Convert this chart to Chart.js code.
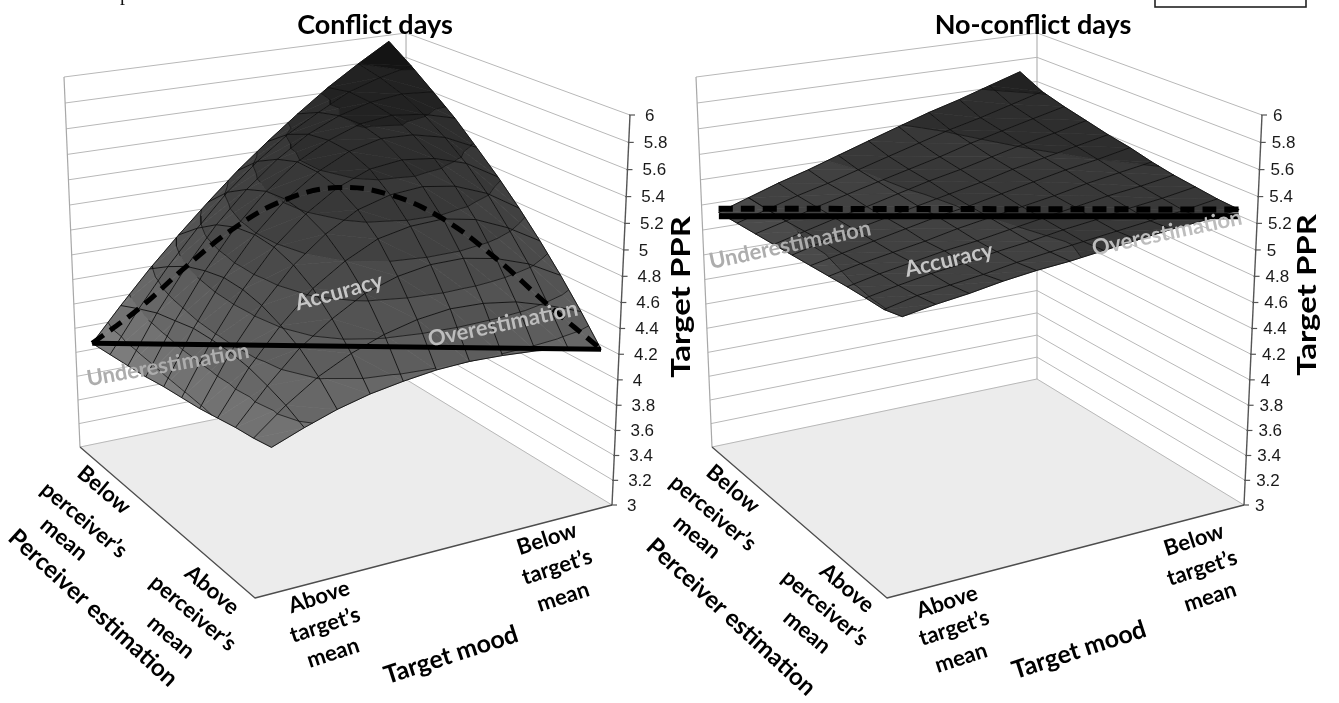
<!DOCTYPE html>
<html>
<head>
<meta charset="utf-8">
<style>
  html, body { margin: 0; background: #fff; }
  canvas { position: absolute; left: 0; top: 0; filter: blur(0.35px); }
</style>
<script src="https://cdn.jsdelivr.net/npm/chart.js@4"></script>
</head>
<body>
<canvas id="conflict" width="1339" height="703"></canvas>
<canvas id="noConflict" width="1339" height="703"></canvas>
<script>
// Target PPR tick values
const zTicks = [3, 3.2, 3.4, 3.6, 3.8, 4, 4.2, 4.4, 4.6, 4.8, 5, 5.2, 5.4, 5.6, 5.8, 6];
const bandGreys = ['#a0a0a0', '#989898', '#909090', '#888888', '#7c7c7c', '#727272', '#676767', '#5d5d5d',
  '#535353', '#4a4a4a', '#414141', '#383838', '#2e2e2e', '#222222', '#141414'];

const chartTitles = ['Conflict days', 'No-conflict days'];
const perceiverLevels = [['Below', 'perceiver’s', 'mean'], ['Above', 'perceiver’s', 'mean']];
const targetLevels = [['Above', 'target’s', 'mean'], ['Below', 'target’s', 'mean']];

// surface height, rows go from the back wall to the front
const conflictSurface = [
  [3.85, 4.12, 4.38, 4.62, 4.85, 5.07, 5.27, 5.46, 5.64, 5.80, 5.95],
  [3.87, 4.20, 4.50, 4.77, 5.02, 5.23, 5.41, 5.55, 5.68, 5.76, 5.82],
  [3.89, 4.27, 4.60, 4.89, 5.13, 5.33, 5.49, 5.60, 5.67, 5.70, 5.68],
  [3.91, 4.31, 4.66, 4.96, 5.20, 5.39, 5.52, 5.61, 5.64, 5.61, 5.54],
  [3.94, 4.35, 4.70, 4.99, 5.22, 5.39, 5.51, 5.57, 5.56, 5.50, 5.38],
  [3.96, 4.36, 4.70, 4.98, 5.19, 5.35, 5.45, 5.48, 5.45, 5.37, 5.22],
  [3.98, 4.36, 4.67, 4.93, 5.12, 5.26, 5.33, 5.35, 5.31, 5.21, 5.05],
  [4.01, 4.34, 4.61, 4.84, 5.00, 5.12, 5.17, 5.18, 5.13, 5.02, 4.87],
  [4.04, 4.30, 4.53, 4.70, 4.84, 4.92, 4.96, 4.96, 4.91, 4.82, 4.68],
  [4.06, 4.25, 4.41, 4.53, 4.62, 4.68, 4.71, 4.70, 4.66, 4.58, 4.48],
  [4.09, 4.18, 4.26, 4.32, 4.36, 4.39, 4.40, 4.39, 4.37, 4.33, 4.27]
];
const noConflictSurface = [
  [4.92, 5.00, 5.08, 5.15, 5.23, 5.31, 5.39, 5.47, 5.54, 5.62, 5.70],
  [4.93, 5.00, 5.07, 5.13, 5.20, 5.27, 5.34, 5.41, 5.47, 5.54, 5.61],
  [4.94, 5.00, 5.07, 5.13, 5.19, 5.25, 5.31, 5.38, 5.44, 5.50, 5.56],
  [4.95, 5.01, 5.07, 5.12, 5.18, 5.24, 5.29, 5.35, 5.41, 5.46, 5.52],
  [4.96, 5.02, 5.07, 5.12, 5.17, 5.22, 5.27, 5.33, 5.38, 5.43, 5.48],
  [4.97, 5.02, 5.07, 5.12, 5.17, 5.21, 5.26, 5.31, 5.36, 5.40, 5.45],
  [4.98, 5.03, 5.07, 5.11, 5.16, 5.20, 5.24, 5.28, 5.33, 5.37, 5.41],
  [4.99, 5.04, 5.08, 5.12, 5.15, 5.19, 5.23, 5.27, 5.31, 5.34, 5.38],
  [4.995, 5.04, 5.08, 5.11, 5.15, 5.18, 5.22, 5.25, 5.29, 5.32, 5.36],
  [4.997, 5.05, 5.08, 5.11, 5.15, 5.18, 5.21, 5.24, 5.27, 5.30, 5.34],
  [5.03, 5.07, 5.10, 5.14, 5.17, 5.19, 5.22, 5.25, 5.28, 5.30, 5.33]
];

// the dashed and solid lines, as heights along the corner to corner diagonal
const conflictDashed = [3.85, 4.20, 4.60, 4.96, 5.22, 5.35, 5.33, 5.18, 4.91, 4.58, 4.27];
const conflictSolid = [3.85, 4.27];
const noConflictDashed = [4.95, 5.33];
const noConflictSolid = [4.89, 5.28];

// box corners on the page: left, back, right, front, floor then ceiling
const conflictBox = {
  floor: { L: [80, 447], B: [407, 380], R: [612, 505], F: [255, 598] },
  top: { L: [64, 77], B: [406, 33], R: [630, 115], F: [250, 180] }
};
const noConflictBox = {
  floor: { L: [712, 447], B: [1037, 379], R: [1244, 505], F: [887, 598] },
  top: { L: [696, 77], B: [1037, 33], R: [1262, 115], F: [882, 180] }
};

const PERSPECTIVE = 0.055;
const A_MARGIN = 0.05;

function lerp(p, q, s) { return p + (q - p) * s; }

function bilin(c, a, b, k) {
  return lerp(lerp(c.L[k], c.B[k], a), lerp(c.F[k], c.R[k], a), b);
}

// a: left wall -> right wall, b: back wall -> front, z: Target PPR
function project(box, a, b, z) {
  const f = (z - 3) / 3;
  const t = f * (1 - PERSPECTIVE) / (1 - PERSPECTIVE * f);
  return {
    x: lerp(bilin(box.floor, a, b, 0), bilin(box.top, a, b, 0), t),
    y: lerp(bilin(box.floor, a, b, 1), bilin(box.top, a, b, 1), t)
  };
}

function gridA(i) { return A_MARGIN + (1 - 2 * A_MARGIN) * i / 10; }

function clipSide(poly, level, keepAbove) {
  const out = [];
  poly.forEach((p, n) => {
    const q = poly[(n + 1) % poly.length];
    const pIn = keepAbove ? p.z >= level : p.z <= level;
    const qIn = keepAbove ? q.z >= level : q.z <= level;
    if (pIn) out.push(p);
    if (pIn !== qIn) {
      const s = (level - p.z) / (q.z - p.z);
      out.push({ a: lerp(p.a, q.a, s), b: lerp(p.b, q.b, s), z: level });
    }
  });
  return out;
}

function buildDatasets(box, surface, dashed, solid, lineWidth) {
  const sets = [];
  const line = (data, color, width, extra) => sets.push(Object.assign({
    data: data, showLine: true, pointRadius: 0, borderColor: color, borderWidth: width, fill: false, clip: false
  }, extra || {}));
  const p = (a, b, z) => project(box, a, b, z);

  // floor
  line([p(0, 0, 3), p(0, 1, 3), p(1, 1, 3), p(1, 0, 3), p(0, 0, 3)], '#ececec', 0.5,
    { fill: 'shape', backgroundColor: '#ececec' });

  // walls
  zTicks.forEach(z => line([p(0, 0, z), p(1, 0, z), p(1, 1, z)], '#b8b8b8', 1));
  line([p(0, 0, 3), p(0, 0, 6)], '#a8a8a8', 1.2);
  line([p(1, 0, 3), p(1, 0, 6)], '#b4b4b4', 1.2);
  line([p(1, 1, 3), p(1, 1, 6)], '#555555', 1.4);
  zTicks.forEach(z => {
    const q = p(1, 1, z);
    line([{ x: q.x - 1, y: q.y }, { x: q.x + 5, y: q.y }], '#555555', 1.2);
  });
  line([p(0, 0, 3), p(0, 1, 3), p(1, 1, 3)], '#4d4d4d', 1.3);

  // surface split in bands of 0.2
  const contours = zTicks.map(() => []);
  for (let j = 0; j < 10; j++) {
    for (let i = 0; i < 10; i++) {
      const n = (ii, jj) => ({ a: gridA(ii), b: jj / 10, z: surface[jj][ii] });
      const tris = [[n(i, j), n(i + 1, j), n(i + 1, j + 1)], [n(i, j), n(i + 1, j + 1), n(i, j + 1)]];
      tris.forEach(tri => {
        for (let k = 0; k < zTicks.length - 1; k++) {
          const poly = clipSide(clipSide(tri, zTicks[k], true), zTicks[k + 1], false);
          if (poly.length > 2) {
            const pts = poly.map(v => p(v.a, v.b, v.z));
            pts.push(pts[0]);
            line(pts, bandGreys[k], 0.7, { fill: 'shape', backgroundColor: bandGreys[k] });
          }
          const seg = clipSide(tri, zTicks[k], true).filter(v => v.z === zTicks[k]);
          if (seg.length === 2) {
            contours[k].push(p(seg[0].a, seg[0].b, seg[0].z), p(seg[1].a, seg[1].b, seg[1].z), { x: NaN, y: NaN });
          }
        }
      });
    }
  }
  contours.forEach(c => { if (c.length) line(c, 'rgba(20,20,20,0.85)', 0.9, { spanGaps: false }); });

  // mesh
  for (let j = 0; j <= 10; j++) {
    line(surface[j].map((z, i) => p(gridA(i), j / 10, z)), 'rgba(15,15,15,0.9)', 1);
  }
  for (let i = 0; i <= 10; i++) {
    line(surface.map((row, j) => p(gridA(i), j / 10, row[i])), 'rgba(15,15,15,0.9)', 1);
  }

  // congruence lines
  const along = (vals) => vals.map((z, n) => {
    const s = n / (vals.length - 1);
    return p(lerp(A_MARGIN, 1 - A_MARGIN, s), s, z);
  });
  line(along(dashed), '#000', lineWidth, { borderDash: [14, 8], tension: 0.4 });
  line(along(solid), '#000', lineWidth);

  sets.forEach((s, idx) => { s.order = sets.length - idx; });
  return sets;
}

function drawText(ctx, text, x, y, deg, font, color, stretch) {
  ctx.save();
  ctx.translate(x, y);
  ctx.rotate(deg * Math.PI / 180);
  if (stretch) ctx.scale(stretch, 1);
  ctx.font = font;
  ctx.fillStyle = color;
  ctx.textAlign = 'center';
  ctx.textBaseline = 'middle';
  ctx.fillText(text, 0, 0);
  ctx.restore();
}

const BOLD = 'bold 22px Lato';
const SURFACE_FONT = 'bold 22px Lato';

function panelText(box, layout) {
  return {
    id: 'panelText',
    afterDatasetsDraw(chart) {
      const ctx = chart.ctx;
      drawText(ctx, layout.title, layout.titlePos[0], layout.titlePos[1], 0, 'bold 27px Lato', '#000');
      zTicks.forEach(z => {
        const q = project(box, 1, 1, z);
        ctx.save();
        ctx.font = '17px "Liberation Sans"';
        ctx.fillStyle = '#1a1a1a';
        ctx.textAlign = 'left';
        ctx.textBaseline = 'middle';
        ctx.fillText(String(z), q.x + layout.tickGap, q.y + 1);
        ctx.restore();
      });
      drawText(ctx, 'Target PPR', layout.ppr[0], layout.ppr[1], -90, 'bold 27px Lato', '#000', 1.22);
      layout.perceiver.forEach((group, g) => group.forEach((pos, n) =>
        drawText(ctx, perceiverLevels[g][n], pos[0], pos[1], 40, BOLD, '#000')));
      layout.target.forEach((group, g) => group.forEach((pos, n) =>
        drawText(ctx, targetLevels[g][n], pos[0], pos[1], -18, BOLD, '#000')));
      drawText(ctx, 'Perceiver estimation', layout.perceiverName[0], layout.perceiverName[1], 42.5, 'bold 24px Lato', '#000');
      drawText(ctx, 'Target mood', layout.targetName[0], layout.targetName[1], -18, 'bold 25px Lato', '#000');
      layout.surface.forEach(s => drawText(ctx, s[0], s[1], s[2], s[3], SURFACE_FONT, s[4]));
      if (layout.extra) layout.extra(ctx);
    }
  };
}

const conflictLayout = {
  title: chartTitles[0],
  titlePos: [375, 25],
  tickGap: 15,
  ppr: [681, 297],
  perceiver: [[[104, 490], [84, 520], [64, 539]], [[212, 590], [193, 613], [171, 637]]],
  target: [[[319, 597], [325, 625], [333, 653]], [[547, 539], [557, 567], [563, 597]]],
  perceiverName: [93, 608],
  targetName: [451, 655],
  surface: [
    ['Underestimation', 168, 365, -10, '#adadad'],
    ['Accuracy', 339, 292, -15, '#c6c6c6'],
    ['Overestimation', 503, 324, -12, '#bdbdbd']
  ],
  extra(ctx) {
    // bit of caption cut off by the top of the page
    ctx.save();
    ctx.font = '20px "Liberation Serif"';
    ctx.fillStyle = '#111';
    ctx.textAlign = 'center';
    ctx.textBaseline = 'alphabetic';
    ctx.fillText('p', 125, 0);
    ctx.restore();
  }
};
const noConflictLayout = {
  title: chartTitles[1],
  titlePos: [1033, 25],
  tickGap: 11,
  ppr: [1307, 295],
  perceiver: [[[733, 489], [713, 513], [697, 537]], [[847, 588], [825, 608], [807, 632]]],
  target: [[[947, 602], [954, 628], [961, 658]], [[1194, 540], [1202, 568], [1210, 597]]],
  perceiverName: [731, 617],
  targetName: [1079, 650],
  surface: [
    ['Underestimation', 790, 245, -12, '#adadad'],
    ['Accuracy', 949, 260, -13, '#c6c6c6'],
    ['Overestimation', 1167, 233, -12, '#bdbdbd']
  ],
  extra(ctx) {
    // empty legend box, cut off by the page
    ctx.save();
    ctx.strokeStyle = '#222';
    ctx.lineWidth = 1.6;
    ctx.strokeRect(1155, -6, 151, 13);
    ctx.restore();
  }
};

function makeChart(id, box, surface, dashed, solid, lineWidth, layout) {
  return new Chart(document.getElementById(id), {
    type: 'scatter',
    data: { datasets: buildDatasets(box, surface, dashed, solid, lineWidth) },
    options: {
      responsive: false,
      animation: false,
      events: [],
      layout: { padding: 0 },
      plugins: { legend: { display: false }, tooltip: { enabled: false }, title: { display: false } },
      elements: { line: { borderJoinStyle: 'round' } },
      scales: {
        x: { type: 'linear', min: 0, max: 1339, display: false },
        y: { type: 'linear', min: 0, max: 703, reverse: true, display: false }
      }
    },
    plugins: [panelText(box, layout)]
  });
}

makeChart('conflict', conflictBox, conflictSurface, conflictDashed, conflictSolid, 5, conflictLayout);
makeChart('noConflict', noConflictBox, noConflictSurface, noConflictDashed, noConflictSolid, 6, noConflictLayout);
</script>
</body>
</html>
